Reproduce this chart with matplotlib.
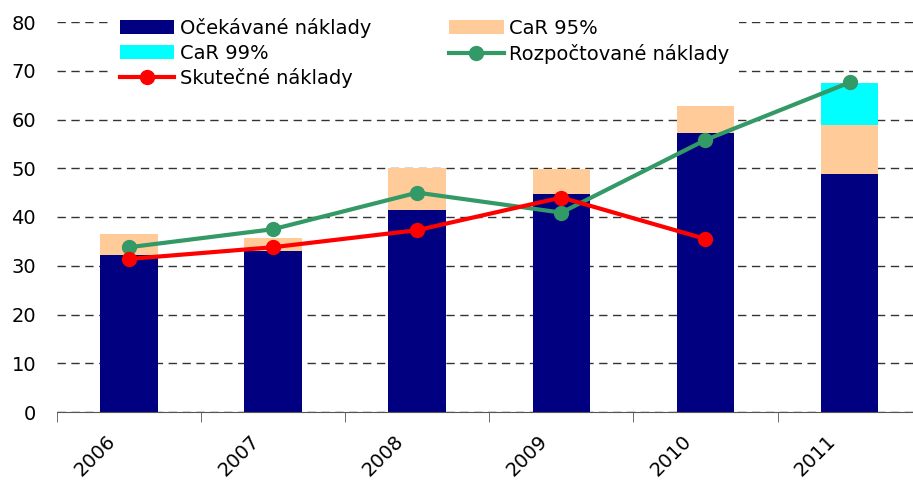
import numpy as np
import matplotlib
matplotlib.use("Agg")
import matplotlib.pyplot as plt
from matplotlib.transforms import ScaledTranslation

roky = ["2006", "2007", "2008", "2009", "2010", "2011"]
ocekavane = [32.2, 33.1, 41.4, 44.7, 57.3, 48.8]
car95 = [4.3, 2.6, 8.7, 5.1, 5.5, 10.1]
car99 = [0, 0, 0, 0, 0, 8.6]
rozpoctovane = [33.8, 37.5, 45.0, 40.9, 55.8, 67.6]
skutecne = [31.4, 33.8, 37.3, 44.0, 35.5, np.nan]

plt.rcParams['font.family'] = ['DejaVu Sans']

fig = plt.figure(figsize=(9.13, 4.83), dpi=100)
ax = fig.add_axes([57 / 913, 71 / 483, 1 - 57 / 913, (412 - 22) / 483])

x = np.arange(len(roky))
w = 0.4
b1 = ax.bar(x, ocekavane, w, color='#000080', label='Očekávané náklady', zorder=2)
b2 = ax.bar(x, car95, w, bottom=ocekavane, color='#FFCC99', label='CaR 95%', zorder=2)
bottom99 = np.array(ocekavane) + np.array(car95)
b3 = ax.bar(x, car99, w, bottom=bottom99, color='#00FFFF', label='CaR 99%', zorder=2)
l1, = ax.plot(x, rozpoctovane, color='#339966', lw=3, marker='o', ms=10,
              label='Rozpočtované náklady', zorder=3)
l2, = ax.plot(x, skutecne, color='#FF0000', lw=3, marker='o', ms=10,
              label='Skutečné náklady', zorder=4)

ax.set_ylim(0, 80)
ax.set_yticks(range(0, 81, 10))
ax.set_xlim(-0.5, 5.44)
ax.yaxis.grid(True, linestyle=(0, (6, 4)), color='#333333', lw=1)
ax.set_axisbelow(True)

for s in ['left', 'right', 'top']:
    ax.spines[s].set_visible(False)
ax.spines['bottom'].set_color('#555555')

ax.set_xticks(x)
ax.set_xticklabels(roky, rotation=45, ha='right', rotation_mode='default')
ax.set_xticks(np.arange(-0.5, 5.5, 1), minor=True)
ax.tick_params(axis='x', which='major', length=0, labelsize=14, pad=14)
ax.tick_params(axis='x', which='minor', length=7, color='#555555')
ax.tick_params(axis='y', length=0, labelsize=14, pad=15)

# posun popisku roku kousek doleva
off = ScaledTranslation(-10 / 100, 0, fig.dpi_scale_trans)
for lab in ax.get_xticklabels():
    lab.set_transform(lab.get_transform() + off)

handles = [b1, b3, l2, b2, l1]
labels = [h.get_label() for h in handles]
leg = ax.legend(handles, labels, ncol=2, loc='upper left',
                bbox_to_anchor=(110 / 913, 1 - 8 / 483), bbox_transform=fig.transFigure,
                fontsize=14, frameon=True, framealpha=1, edgecolor='none',
                fancybox=False, handlelength=2.8, handleheight=0.75,
                labelspacing=0.3, columnspacing=4.0, handletextpad=0.3,
                borderpad=0.5, borderaxespad=0)
leg.set_zorder(5)

fig.savefig("out.png", dpi=100)
